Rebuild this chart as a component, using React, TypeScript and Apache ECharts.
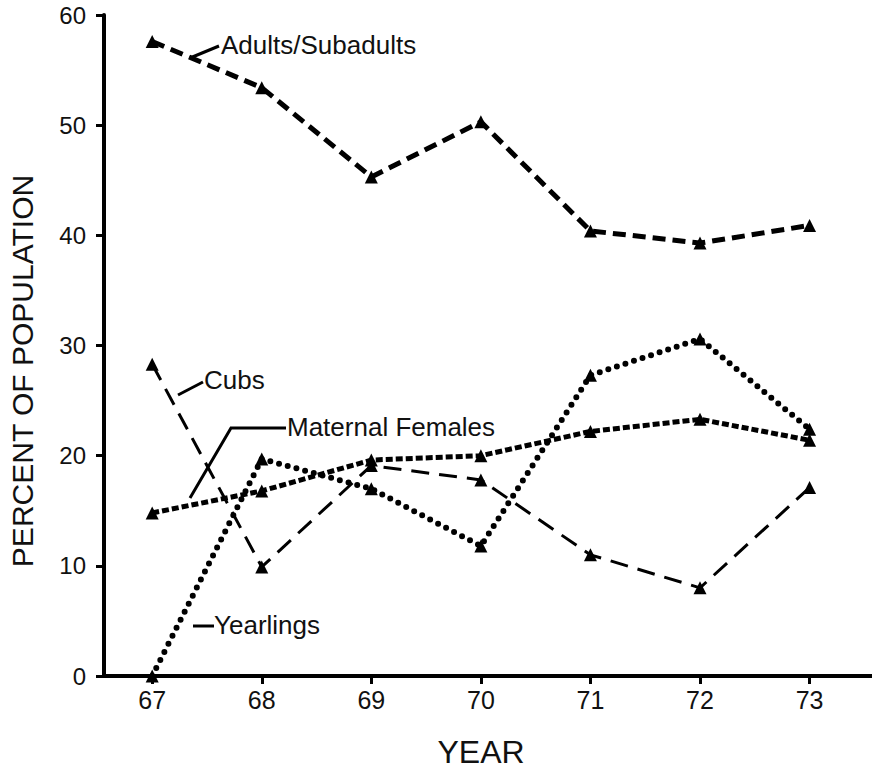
import React, { useEffect, useRef } from "react";
import * as echarts from "echarts";

const years = [67, 68, 69, 70, 71, 72, 73];
const adultsSubadults = [57.6, 53.4, 45.3, 50.3, 40.4, 39.3, 40.9];
const cubs = [28.3, 9.9, 19.1, 17.8, 11.0, 8.0, 17.1];
const maternalFemales = [14.8, 16.8, 19.6, 20.0, 22.2, 23.3, 21.4];
const yearlings = [0, 19.7, 17.0, 11.8, 27.3, 30.6, 22.4];

const seriesNames = ["Adults/Subadults", "Cubs", "Maternal Females", "Yearlings"];
const xTitle = "YEAR";
const yTitle = "PERCENT OF POPULATION";

const FONT = "'Liberation Sans', Arial, Helvetica, sans-serif";

const pair = (vals: number[]) => years.map((y, i) => [y, vals[i]]);

export default function App() {
  const ref = useRef<HTMLDivElement>(null);

  useEffect(() => {
    document.body.style.margin = "0";
    const chart = echarts.init(ref.current!, null, { renderer: "svg" });
    const black = "#000";
    const mk = (name: string, vals: number[], lineStyle: any) => ({
      name,
      type: "line",
      data: pair(vals),
      symbol: "triangle",
      symbolSize: 13,
      itemStyle: { color: black },
      lineStyle: { color: black, ...lineStyle },
      z: 3,
    });
    const label = (text: string, x: number, y: number) => ({
      type: "text",
      x,
      y,
      style: { text, fontSize: 26, fill: "#111", verticalAlign: "middle", fontFamily: FONT },
    });
    chart.setOption({
      animation: false,
      backgroundColor: "#fff",
      textStyle: { fontFamily: FONT },
      grid: { left: 104, right: 0, top: 15, bottom: 92, containLabel: false },
      xAxis: {
        type: "value",
        min: 66.56,
        max: 73.57,
        name: xTitle,
        nameLocation: "middle",
        nameGap: 60,
        nameTextStyle: { fontSize: 32, color: "#111", fontFamily: FONT, padding: [0, 14, 0, 0] },
        axisLine: { onZero: false, lineStyle: { color: black, width: 4 } },
        axisTick: { show: true, length: 8, lineStyle: { color: black, width: 3 }, customValues: years },
        axisLabel: { fontSize: 25, color: "#111", margin: 11, customValues: years, fontFamily: FONT },
        splitLine: { show: false },
      },
      yAxis: {
        type: "value",
        min: 0,
        max: 60,
        interval: 10,
        axisLine: { show: true, lineStyle: { color: black, width: 4 } },
        axisTick: { show: true, length: 8, lineStyle: { color: black, width: 3 } },
        axisLabel: { fontSize: 24, color: "#111", margin: 18, fontFamily: FONT },
        splitLine: { show: false },
      },
      series: [
        mk(seriesNames[0], adultsSubadults, { width: 5, type: [13, 7] }),
        mk(seriesNames[1], cubs, { width: 3, type: [18, 10] }),
        mk(seriesNames[2], maternalFemales, { width: 5, type: [7, 3] }),
        mk(seriesNames[3], yearlings, { width: 6, type: [0, 9], cap: "round" }),
      ],
      graphic: [
        {
          type: "text",
          x: 22,
          y: 371,
          rotation: Math.PI / 2,
          style: { text: yTitle, fontSize: 30, fill: "#111", align: "center", verticalAlign: "middle", fontFamily: FONT },
        },
        { type: "line", shape: { x1: 190, y1: 58, x2: 219, y2: 46 }, style: { stroke: black, lineWidth: 3 } },
        label(seriesNames[0], 221, 45),
        { type: "line", shape: { x1: 178, y1: 395, x2: 203, y2: 382 }, style: { stroke: black, lineWidth: 3 } },
        label(seriesNames[1], 204, 380),
        { type: "polyline", shape: { points: [[190, 498], [231, 428], [286, 428]] }, style: { stroke: black, lineWidth: 3, fill: "none" } },
        label(seriesNames[2], 287, 427),
        { type: "line", shape: { x1: 193, y1: 626, x2: 214, y2: 626 }, style: { stroke: black, lineWidth: 3 } },
        label(seriesNames[3], 214, 625),
      ],
    });
    return () => chart.dispose();
  }, []);

  return <div ref={ref} style={{ width: 872, height: 773 }} />;
}
